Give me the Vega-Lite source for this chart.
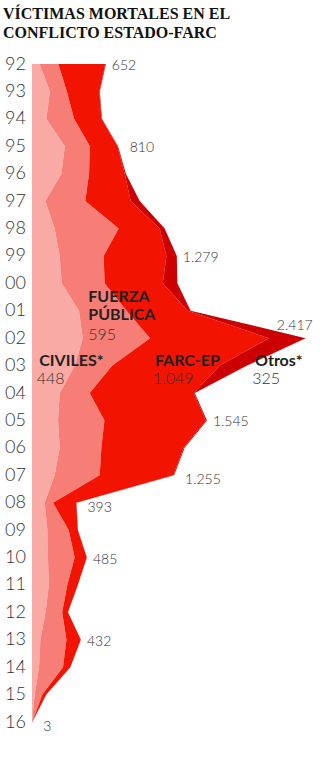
{
  "$schema": "https://vega.github.io/schema/vega-lite/v6.json",
  "width": 288,
  "height": 658,
  "autosize": {"type": "none"},
  "padding": {"left": 32, "top": 64, "right": 0, "bottom": 42},
  "background": "white",
  "title": {
    "text": ["VÍCTIMAS MORTALES EN EL", "CONFLICTO ESTADO-FARC"],
    "anchor": "start",
    "frame": "group",
    "dx": -29,
    "font": "Liberation Serif",
    "fontSize": 16,
    "fontWeight": "bold",
    "color": "#111111",
    "lineHeight": 19,
    "offset": 14
  },
  "config": {"view": {"stroke": null}},
  "datasets": {
    "deaths": [
      {"year": 1992, "cat": "Civiles", "k": 1, "v": 68}, {"year": 1992, "cat": "Fuerza Pública", "k": 2, "v": 165}, {"year": 1992, "cat": "FARC-EP", "k": 3, "v": 414}, {"year": 1992, "cat": "Otros", "k": 4, "v": 5},
      {"year": 1993, "cat": "Civiles", "k": 1, "v": 158}, {"year": 1993, "cat": "Fuerza Pública", "k": 2, "v": 150}, {"year": 1993, "cat": "FARC-EP", "k": 3, "v": 287}, {"year": 1993, "cat": "Otros", "k": 4, "v": 4},
      {"year": 1994, "cat": "Civiles", "k": 1, "v": 127}, {"year": 1994, "cat": "Fuerza Pública", "k": 2, "v": 245}, {"year": 1994, "cat": "FARC-EP", "k": 3, "v": 241}, {"year": 1994, "cat": "Otros", "k": 4, "v": 5},
      {"year": 1995, "cat": "Civiles", "k": 1, "v": 290}, {"year": 1995, "cat": "Fuerza Pública", "k": 2, "v": 222}, {"year": 1995, "cat": "FARC-EP", "k": 3, "v": 243}, {"year": 1995, "cat": "Otros", "k": 4, "v": 5},
      {"year": 1996, "cat": "Civiles", "k": 1, "v": 260}, {"year": 1996, "cat": "Fuerza Pública", "k": 2, "v": 244}, {"year": 1996, "cat": "FARC-EP", "k": 3, "v": 315}, {"year": 1996, "cat": "Otros", "k": 4, "v": 10},
      {"year": 1997, "cat": "Civiles", "k": 1, "v": 118}, {"year": 1997, "cat": "Fuerza Pública", "k": 2, "v": 353}, {"year": 1997, "cat": "FARC-EP", "k": 3, "v": 401}, {"year": 1997, "cat": "Otros", "k": 4, "v": 79},
      {"year": 1998, "cat": "Civiles", "k": 1, "v": 200}, {"year": 1998, "cat": "Fuerza Pública", "k": 2, "v": 566}, {"year": 1998, "cat": "FARC-EP", "k": 3, "v": 362}, {"year": 1998, "cat": "Otros", "k": 4, "v": 44},
      {"year": 1999, "cat": "Civiles", "k": 1, "v": 245}, {"year": 1999, "cat": "Fuerza Pública", "k": 2, "v": 388}, {"year": 1999, "cat": "FARC-EP", "k": 3, "v": 554}, {"year": 1999, "cat": "Otros", "k": 4, "v": 92},
      {"year": 2000, "cat": "Civiles", "k": 1, "v": 262}, {"year": 2000, "cat": "Fuerza Pública", "k": 2, "v": 380}, {"year": 2000, "cat": "FARC-EP", "k": 3, "v": 513}, {"year": 2000, "cat": "Otros", "k": 4, "v": 129},
      {"year": 2001, "cat": "Civiles", "k": 1, "v": 415}, {"year": 2001, "cat": "Fuerza Pública", "k": 2, "v": 421}, {"year": 2001, "cat": "FARC-EP", "k": 3, "v": 540}, {"year": 2001, "cat": "Otros", "k": 4, "v": 25},
      {"year": 2002, "cat": "Civiles", "k": 1, "v": 448}, {"year": 2002, "cat": "Fuerza Pública", "k": 2, "v": 595}, {"year": 2002, "cat": "FARC-EP", "k": 3, "v": 1049}, {"year": 2002, "cat": "Otros", "k": 4, "v": 325},
      {"year": 2003, "cat": "Civiles", "k": 1, "v": 380}, {"year": 2003, "cat": "Fuerza Pública", "k": 2, "v": 330}, {"year": 2003, "cat": "FARC-EP", "k": 3, "v": 950}, {"year": 2003, "cat": "Otros", "k": 4, "v": 240},
      {"year": 2004, "cat": "Civiles", "k": 1, "v": 245}, {"year": 2004, "cat": "Fuerza Pública", "k": 2, "v": 265}, {"year": 2004, "cat": "FARC-EP", "k": 3, "v": 920}, {"year": 2004, "cat": "Otros", "k": 4, "v": 8},
      {"year": 2005, "cat": "Civiles", "k": 1, "v": 230}, {"year": 2005, "cat": "Fuerza Pública", "k": 2, "v": 410}, {"year": 2005, "cat": "FARC-EP", "k": 3, "v": 895}, {"year": 2005, "cat": "Otros", "k": 4, "v": 10},
      {"year": 2006, "cat": "Civiles", "k": 1, "v": 245}, {"year": 2006, "cat": "Fuerza Pública", "k": 2, "v": 368}, {"year": 2006, "cat": "FARC-EP", "k": 3, "v": 727}, {"year": 2006, "cat": "Otros", "k": 4, "v": 8},
      {"year": 2007, "cat": "Civiles", "k": 1, "v": 200}, {"year": 2007, "cat": "Fuerza Pública", "k": 2, "v": 398}, {"year": 2007, "cat": "FARC-EP", "k": 3, "v": 650}, {"year": 2007, "cat": "Otros", "k": 4, "v": 7},
      {"year": 2008, "cat": "Civiles", "k": 1, "v": 112}, {"year": 2008, "cat": "Fuerza Pública", "k": 2, "v": 74}, {"year": 2008, "cat": "FARC-EP", "k": 3, "v": 205}, {"year": 2008, "cat": "Otros", "k": 4, "v": 2},
      {"year": 2009, "cat": "Civiles", "k": 1, "v": 136}, {"year": 2009, "cat": "Fuerza Pública", "k": 2, "v": 188}, {"year": 2009, "cat": "FARC-EP", "k": 3, "v": 80}, {"year": 2009, "cat": "Otros", "k": 4, "v": 2},
      {"year": 2010, "cat": "Civiles", "k": 1, "v": 141}, {"year": 2010, "cat": "Fuerza Pública", "k": 2, "v": 236}, {"year": 2010, "cat": "FARC-EP", "k": 3, "v": 106}, {"year": 2010, "cat": "Otros", "k": 4, "v": 2},
      {"year": 2011, "cat": "Civiles", "k": 1, "v": 148}, {"year": 2011, "cat": "Fuerza Pública", "k": 2, "v": 164}, {"year": 2011, "cat": "FARC-EP", "k": 3, "v": 92}, {"year": 2011, "cat": "Otros", "k": 4, "v": 1},
      {"year": 2012, "cat": "Civiles", "k": 1, "v": 120}, {"year": 2012, "cat": "Fuerza Pública", "k": 2, "v": 147}, {"year": 2012, "cat": "FARC-EP", "k": 3, "v": 50}, {"year": 2012, "cat": "Otros", "k": 4, "v": 1},
      {"year": 2013, "cat": "Civiles", "k": 1, "v": 74}, {"year": 2013, "cat": "Fuerza Pública", "k": 2, "v": 230}, {"year": 2013, "cat": "FARC-EP", "k": 3, "v": 127}, {"year": 2013, "cat": "Otros", "k": 4, "v": 1},
      {"year": 2014, "cat": "Civiles", "k": 1, "v": 62}, {"year": 2014, "cat": "Fuerza Pública", "k": 2, "v": 212}, {"year": 2014, "cat": "FARC-EP", "k": 3, "v": 64}, {"year": 2014, "cat": "Otros", "k": 4, "v": 1},
      {"year": 2015, "cat": "Civiles", "k": 1, "v": 24}, {"year": 2015, "cat": "Fuerza Pública", "k": 2, "v": 68}, {"year": 2015, "cat": "FARC-EP", "k": 3, "v": 34}, {"year": 2015, "cat": "Otros", "k": 4, "v": 1},
      {"year": 2016, "cat": "Civiles", "k": 1, "v": 0}, {"year": 2016, "cat": "Fuerza Pública", "k": 2, "v": 2}, {"year": 2016, "cat": "FARC-EP", "k": 3, "v": 1}, {"year": 2016, "cat": "Otros", "k": 4, "v": 0}
    ],
    "totalsNear": [
      {"year": 1992, "total": 652, "label": "652"},
      {"year": 1995, "total": 810, "label": "810"},
      {"year": 1999, "total": 1279, "label": "1.279"},
      {"year": 2005, "total": 1545, "label": "1.545"},
      {"year": 2010, "total": 485, "label": "485"},
      {"year": 2013, "total": 432, "label": "432"}
    ],
    "totalsFar": [
      {"year": 2007, "total": 1255, "label": "1.255"},
      {"year": 2008, "total": 393, "label": "393"},
      {"year": 2016, "total": 3, "label": "3"}
    ],
    "peak": [
      {"year": 2002, "total": 2417, "label": "2.417"}
    ],
    "names": [
      {"x": 497, "y": 2000.68, "name": "FUERZA\nPÚBLICA"},
      {"x": 64, "y": 2003.0, "name": "CIVILES*"},
      {"x": 1086, "y": 2003.0, "name": "FARC-EP"},
      {"x": 1970, "y": 2003.0, "name": "Otros*"}
    ],
    "nums": [
      {"x": 497, "y": 2002.07, "num": "595"},
      {"x": 42, "y": 2003.66, "num": "448"},
      {"x": 1066, "y": 2003.66, "num": "1.049"},
      {"x": 1946, "y": 2003.66, "num": "325"}
    ],
    "years": [
      {"year": 1992}, {"year": 1993}, {"year": 1994}, {"year": 1995}, {"year": 1996},
      {"year": 1997}, {"year": 1998}, {"year": 1999}, {"year": 2000}, {"year": 2001},
      {"year": 2002}, {"year": 2003}, {"year": 2004}, {"year": 2005}, {"year": 2006},
      {"year": 2007}, {"year": 2008}, {"year": 2009}, {"year": 2010}, {"year": 2011},
      {"year": 2012}, {"year": 2013}, {"year": 2014}, {"year": 2015}, {"year": 2016}
    ]
  },
  "layer": [
    {
      "data": {"name": "deaths"},
      "mark": {"type": "area", "orient": "horizontal"},
      "encoding": {
        "y": {
          "field": "year", "type": "quantitative",
          "scale": {"domain": [1992, 2016], "reverse": true, "nice": false, "zero": false},
          "axis": {
            "values": [1992, 1993, 1994, 1995, 1996, 1997, 1998, 1999, 2000, 2001, 2002, 2003, 2004, 2005, 2006, 2007, 2008, 2009, 2010, 2011, 2012, 2013, 2014, 2015, 2016],
            "tickCount": 25,
            "labelExpr": "substring(toString(datum.value), 2)",
            "domain": false, "ticks": false, "tickSize": 0, "grid": false,
            "labelAlign": "center", "labelBaseline": "middle", "labelPadding": 17,
            "labelFontSize": 18, "labelFont": "Lato", "labelFontWeight": 300,
            "labelColor": "#333333", "title": null,
            "labelOverlap": false, "labelSeparation": 0, "labelBound": false
          }
        },
        "x": {
          "field": "v", "type": "quantitative", "stack": "zero",
          "scale": {"domain": [0, 2544], "nice": false},
          "axis": null
        },
        "color": {
          "field": "cat", "type": "nominal",
          "scale": {"domain": ["Civiles", "Fuerza Pública", "FARC-EP", "Otros"], "range": ["#f9aaa5", "#f67e77", "#f21400", "#cc0000"]},
          "legend": null
        },
        "order": {"field": "k", "type": "quantitative"}
      }
    },
    {
      "data": {"name": "totalsNear"},
      "mark": {"type": "text", "align": "left", "baseline": "middle", "dx": 6, "dy": 2, "font": "Lato", "fontWeight": 300, "fontSize": 14, "color": "#333333"},
      "encoding": {
        "x": {"field": "total", "type": "quantitative"},
        "y": {"field": "year", "type": "quantitative"},
        "text": {"field": "label"}
      }
    },
    {
      "data": {"name": "totalsFar"},
      "mark": {"type": "text", "align": "left", "baseline": "middle", "dx": 11, "dy": 5, "font": "Lato", "fontWeight": 300, "fontSize": 14, "color": "#333333"},
      "encoding": {
        "x": {"field": "total", "type": "quantitative"},
        "y": {"field": "year", "type": "quantitative"},
        "text": {"field": "label"}
      }
    },
    {
      "data": {"name": "peak"},
      "mark": {"type": "text", "align": "right", "baseline": "middle", "dx": 7, "dy": -12, "font": "Lato", "fontWeight": 300, "fontSize": 14, "color": "#333333"},
      "encoding": {
        "x": {"field": "total", "type": "quantitative"},
        "y": {"field": "year", "type": "quantitative"},
        "text": {"field": "label"}
      }
    },
    {
      "data": {"name": "names"},
      "mark": {"type": "text", "align": "left", "baseline": "alphabetic", "font": "Lato", "fontWeight": "bold", "fontSize": 16, "lineHeight": 18, "lineBreak": "\n", "color": "#222222"},
      "encoding": {
        "x": {"field": "x", "type": "quantitative"},
        "y": {"field": "y", "type": "quantitative"},
        "text": {"field": "name"}
      }
    },
    {
      "data": {"name": "nums"},
      "mark": {"type": "text", "align": "left", "baseline": "alphabetic", "font": "Lato", "fontWeight": 300, "fontSize": 16, "color": "#333333"},
      "encoding": {
        "x": {"field": "x", "type": "quantitative"},
        "y": {"field": "y", "type": "quantitative"},
        "text": {"field": "num"}
      }
    },
    {
      "mark": {"type": "text", "align": "right", "baseline": "middle", "font": "Lato", "fontWeight": 300, "fontSize": 12.5, "color": "#777777"},
      "encoding": {
        "x": {"datum": 2482, "type": "quantitative"},
        "y": {"datum": 2016.29, "type": "quantitative"},
        "text": {"value": "Fuente: elaboración propia. EL PAÍS"}
      }
    }
  ]
}
